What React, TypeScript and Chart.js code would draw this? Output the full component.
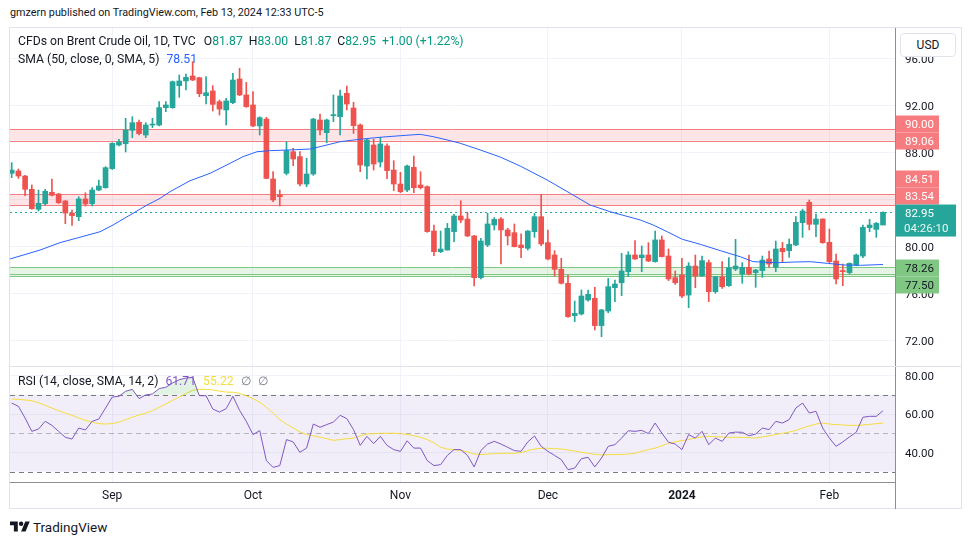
import React, { useEffect, useRef } from 'react';
import { Chart, registerables } from 'chart.js';

Chart.register(...registerables);

const FONT = 'Roboto, "Liberation Sans", Arial, sans-serif';
const UP = '#26a69a';
const DOWN = '#ef5350';

// ---- daily candles, Aug 11 2023 .. Feb 13 2024 (index 0 = first bar) ----
const openP = [86.27,86.47,86.04,84.91,83.21,83.69,84.65,84.51,83.92,82.89,
82.58,84.09,83.69,84.85,85.05,86.67,88.68,88.79,89.93,90.61,
89.53,90.38,90.38,91.86,91.86,93.73,94.13,94.55,94.41,92.88,
93.28,92.37,91.66,92.28,94.30,92.94,92.09,90.30,90.89,85.79,
84.43,86.27,88.11,87.69,85.36,86.21,90.81,89.73,91.18,91.09,
93.08,91.83,90.38,86.89,88.68,87.23,88.60,86.55,85.36,84.85,
86.78,85.28,85.14,81.36,79.60,79.74,81.31,82.64,82.38,80.94,
77.39,80.17,81.87,82.38,81.45,81.22,80.17,79.89,81.30,82.58,
80.37,79.32,78.10,76.91,74.16,74.30,75.49,75.63,73.31,74.55,
76.54,76.96,77.90,79.32,79.09,79.32,78.75,80.60,79.23,77.39,
77.62,75.91,78.38,77.56,78.67,76.20,77.47,76.71,78.13,77.70,
78.27,77.82,77.99,78.98,78.27,79.89,79.69,80.17,82.07,83.80,
81.93,82.38,80.40,78.81,77.99,77.82,78.47,79.23,81.65,81.50,
81.87];
const highP = [87.18,86.64,86.10,85.28,84.85,84.91,85.79,84.57,83.95,83.15,
84.28,84.62,85.05,85.70,86.84,88.88,89.16,90.95,91.09,90.81,
90.58,90.95,92.37,92.37,94.13,94.64,94.72,95.77,94.45,94.50,
93.73,92.51,92.65,94.78,95.21,94.01,93.22,91.09,91.04,86.41,
84.85,88.96,88.40,88.11,87.55,90.95,91.32,90.89,92.94,93.36,
93.70,92.31,90.47,89.17,89.17,89.33,88.77,87.35,86.36,86.98,
87.74,86.41,85.20,81.87,81.36,82.01,82.78,83.94,82.95,81.00,
80.74,82.87,82.50,82.50,81.59,81.96,81.11,81.40,82.87,84.48,
81.45,79.69,79.04,77.62,75.40,76.34,76.34,76.57,74.70,77.33,
77.19,79.46,79.60,80.54,80.09,80.37,81.36,80.94,79.83,77.96,
79.04,78.67,79.32,79.23,78.89,77.50,78.75,79.09,80.65,78.67,
79.32,78.10,79.23,79.66,80.51,80.40,80.68,82.58,83.21,84.00,
82.81,82.40,81.53,79.40,78.55,78.65,79.40,81.87,82.35,82.10,
83.00];
const lowP = [85.90,85.84,84.37,83.21,83.06,83.55,84.35,83.70,81.99,81.84,
82.24,83.49,83.49,84.80,85.00,86.60,88.60,88.09,89.31,89.53,
89.31,90.16,90.30,91.52,91.80,92.74,93.36,94.16,92.79,92.17,
91.57,91.23,90.38,92.20,92.88,91.89,90.24,89.53,85.80,83.86,
83.49,86.13,86.92,85.19,85.14,86.10,89.53,88.88,90.67,89.53,
91.66,89.67,86.41,85.79,86.55,86.81,85.82,84.80,84.62,84.71,
84.62,84.94,81.25,79.26,79.52,79.74,80.45,82.07,80.88,76.68,
77.28,80.03,81.45,78.55,80.17,80.00,79.09,79.74,80.82,80.11,
78.89,77.53,76.85,74.00,73.65,74.21,75.40,72.94,72.37,74.40,
75.35,75.86,77.47,78.95,77.90,78.75,78.70,79.15,77.14,76.82,
75.69,74.84,76.54,77.50,75.35,76.06,76.48,76.65,77.99,76.91,
77.62,76.57,77.42,78.27,77.90,78.75,79.12,80.11,80.82,81.45,
80.88,80.31,78.67,76.85,76.71,77.70,78.40,79.09,81.30,80.82,
81.87];
const closeP = [86.55,86.04,84.91,83.26,83.72,84.74,84.40,83.77,82.89,82.67,
84.09,83.66,84.85,85.19,86.75,88.82,88.94,89.96,90.58,89.65,
90.38,90.44,91.86,92.09,94.07,94.13,94.44,94.21,93.05,93.13,
92.14,91.74,92.43,94.21,92.94,91.94,90.30,91.01,85.84,84.00,
84.28,88.20,87.49,85.36,86.21,90.89,89.96,90.81,91.25,92.85,
92.17,90.33,86.98,89.11,87.06,88.77,86.50,85.36,84.71,86.89,
85.05,85.05,81.31,79.60,79.83,81.59,82.64,82.30,80.94,77.39,
80.51,81.96,82.35,81.45,80.94,80.03,79.94,81.36,82.58,80.26,
78.98,78.10,76.91,74.07,74.35,75.83,75.97,73.31,74.64,76.62,
76.85,77.96,79.32,78.98,79.32,78.81,80.60,79.18,77.28,76.96,
75.83,78.38,77.53,78.84,76.20,77.47,76.62,78.24,78.38,78.27,
77.70,78.04,78.89,78.55,79.83,79.60,80.23,82.10,83.06,81.93,
82.38,80.37,78.75,77.28,77.90,78.61,79.32,81.67,81.87,82.01,
82.95];

// SMA(50) line at these bar positions
const smaIdx = [-0.25,4.22,7.21,10.19,13.18,15.12,18.10,20.19,22.13,23.63,26.61,29.60,32.58,34.52,36.61,38.55,41.54,44.52,46.01,49.00,51.99,54.97,57.96,60.94,62.88,64.97,66.91,69.90,72.88,75.87,79.90,83.33,86.31,89.31,93.78,95.72,97.81,100.04,102.73,105.72,108.70,110.64,114.22,116.61,119.15,121.69,124.07,126.61,130.00];
const smaVals = [78.98,79.74,80.37,80.83,81.30,81.87,82.87,83.57,84.14,84.71,85.64,86.27,87.12,87.69,88.11,88.20,88.26,88.34,88.54,88.96,89.17,89.34,89.47,89.59,89.39,89.11,88.83,88.26,87.66,86.89,85.70,84.57,83.57,83.00,82.30,81.87,81.30,80.66,80.23,79.69,79.17,78.75,78.66,78.72,78.75,78.61,78.47,78.44,78.51];

// RSI(14) and its SMA(14), one value per bar
const rsiVals = [65.7,64.0,57.9,51.0,52.2,56.2,54.1,51.0,47.9,47.0,52.7,51.7,56.2,57.4,63.1,68.8,69.2,71.8,72.8,68.0,69.9,70.4,73.2,73.9,76.1,77.8,78.7,79.0,69.5,69.5,62.6,61.0,62.8,69.2,61.9,56.2,49.3,51.4,35.8,32.3,33.2,46.7,45.5,40.1,42.3,54.8,
53.1,54.5,55.8,59.3,57.6,51.9,43.7,48.4,44.6,48.4,43.7,41.5,40.6,46.1,42.3,42.3,35.8,33.2,33.7,38.5,41.5,41.5,38.5,32.5,41.0,44.4,45.8,44.4,42.7,41.0,40.6,45.5,48.6,43.2,40.6,38.5,36.3,31.1,31.9,36.8,37.5,32.5,37.1,43.2,
44.1,47.5,51.3,51.0,51.5,49.8,55.3,50.1,45.3,44.4,41.5,49.3,47.5,51.0,44.1,47.5,45.8,50.1,50.6,50.5,48.7,49.6,52.7,51.9,56.2,55.3,57.1,63.1,65.7,60.5,61.4,52.7,47.5,43.2,45.5,48.1,50.5,58.3,58.8,58.8,61.71];
const rsiMaVals = [67.8,67.6,67.3,66.9,65.9,64.5,63.1,61.7,60.5,59.3,57.9,56.7,55.8,55.0,54.8,55.0,55.8,57.1,58.3,59.5,60.5,61.7,63.5,65.2,67.1,68.8,70.6,72.3,72.8,72.8,72.5,71.9,71.4,71.3,70.7,69.5,68.0,66.1,63.5,60.5,57.1,54.8,52.7,50.7,49.3,48.7,
47.9,47.2,46.3,46.7,47.2,47.5,48.6,49.6,49.8,50.0,50.0,50.0,49.8,49.4,48.7,47.9,46.7,45.1,42.7,41.8,41.5,41.0,40.3,39.2,38.9,39.2,39.4,39.6,39.6,39.6,39.9,41.0,41.8,42.2,42.2,42.0,41.8,41.3,40.8,40.1,39.6,39.1,38.7,38.9,
38.9,39.0,39.2,39.6,40.6,41.5,42.3,43.5,44.8,45.5,46.2,46.8,47.5,48.1,48.4,48.2,48.1,47.9,47.9,47.9,47.7,47.5,48.1,48.6,49.4,50.0,50.6,51.5,52.7,53.8,54.8,55.3,54.8,54.5,54.3,54.1,54.1,54.3,54.6,55.0,55.22];

// axes
const monthTickIdx = [15, 36, 58, 80, 100, 122];
const monthTickLabels = ['Sep', 'Oct', 'Nov', 'Dec', '2024', 'Feb'];
const priceTicks = [72, 76, 80, 84, 88, 92, 96];
const rsiTicks = [40, 60, 80];

// drawn levels
const redZones = [[89.06, 90.0], [83.54, 84.51]];
const greenZone = [77.5, 78.26];
const greenExtraLine = 77.7;
const rsiBand = [30, 70];
const rsiMid = 50;
const countdownText = '04:26:10';

const X_MIN = -0.254;
const X_MAX = 131.79;
const MAIN_Y_MIN = 69.872;
const MAIN_Y_MAX = 98.638;
const RSI_Y_MIN = 24.68;
const RSI_Y_MAX = 84.42;

const RED_LBL = '#f77c80';
const GREEN_LBL = '#81c784';
const axisLabels = [
  { price: 90.0, dy: -5.5, bg: RED_LBL, fg: '#ffffff' },
  { price: 89.06, dy: 0.5, bg: RED_LBL, fg: '#ffffff' },
  { price: 84.51, dy: -15, bg: RED_LBL, fg: '#ffffff' },
  { price: 83.54, dy: -9.4, bg: RED_LBL, fg: '#ffffff' },
  { price: 78.26, dy: 0.6, bg: GREEN_LBL, fg: '#131722' },
  { price: 77.5, dy: 8.6, bg: GREEN_LBL, fg: '#131722' },
];

const mainDecor = {
  id: 'mainDecor',
  beforeDatasetsDraw(chart: any) {
    const { ctx, chartArea: a } = chart;
    const y = chart.scales.y;
    ctx.save();
    ctx.beginPath();
    ctx.rect(a.left, a.top, a.right - a.left, a.bottom - a.top);
    ctx.clip();
    const hline = (v: number, color: string) => {
      const py = Math.round(y.getPixelForValue(v)) + 0.5;
      ctx.strokeStyle = color;
      ctx.lineWidth = 1;
      ctx.beginPath();
      ctx.moveTo(a.left, py);
      ctx.lineTo(a.right, py);
      ctx.stroke();
    };
    const band = (lo: number, hi: number, fill: string, stroke: string) => {
      const y1 = y.getPixelForValue(hi);
      const y2 = y.getPixelForValue(lo);
      ctx.fillStyle = fill;
      ctx.fillRect(a.left, y1, a.right - a.left, y2 - y1);
      hline(hi, stroke);
      hline(lo, stroke);
    };
    redZones.forEach((z) => band(z[0], z[1], 'rgba(242,54,69,0.13)', RED_LBL));
    band(greenZone[0], greenZone[1], 'rgba(76,175,80,0.14)', GREEN_LBL);
    hline(greenExtraLine, GREEN_LBL);
    ctx.setLineDash([2, 3]);
    hline(closeP[closeP.length - 1], UP);
    ctx.restore();
  },
  afterDraw(chart: any) {
    const { ctx, chartArea: a } = chart;
    const y = chart.scales.y;
    ctx.save();
    ctx.font = '11.5px ' + FONT;
    ctx.textBaseline = 'middle';
    ctx.textAlign = 'left';
    const x0 = a.right + 1;
    axisLabels.forEach((l) => {
      const c = y.getPixelForValue(l.price) + l.dy;
      ctx.fillStyle = l.bg;
      ctx.fillRect(x0, c - 8.5, 43, 17);
    });
    axisLabels.forEach((l) => {
      const c = y.getPixelForValue(l.price) + l.dy;
      ctx.fillStyle = l.fg;
      ctx.fillText(l.price.toFixed(2), x0 + 9, c + 1);
    });
    const last = closeP[closeP.length - 1];
    const c = y.getPixelForValue(last) + 0.7;
    ctx.fillStyle = UP;
    ctx.fillRect(x0, c - 8.5, 60, 32);
    ctx.fillStyle = '#ffffff';
    ctx.fillText(last.toFixed(2), x0 + 9, c + 1);
    ctx.fillStyle = 'rgba(255,255,255,0.9)';
    ctx.fillText(countdownText, x0 + 8, c + 16);
    ctx.restore();
  },
};

const rsiDecor = {
  id: 'rsiDecor',
  beforeDatasetsDraw(chart: any) {
    const { ctx, chartArea: a } = chart;
    const y = chart.scales.y;
    ctx.save();
    const top = y.getPixelForValue(rsiBand[1]);
    const bot = y.getPixelForValue(rsiBand[0]);
    ctx.fillStyle = 'rgba(126,87,194,0.1)';
    ctx.fillRect(a.left, top, a.right - a.left, bot - top);
    const dash = (v: number, color: string) => {
      const py = Math.round(y.getPixelForValue(v)) + 0.5;
      ctx.strokeStyle = color;
      ctx.lineWidth = 1;
      ctx.setLineDash([5, 4]);
      ctx.beginPath();
      ctx.moveTo(a.left, py);
      ctx.lineTo(a.right, py);
      ctx.stroke();
    };
    dash(rsiBand[1], '#787b86');
    dash(rsiBand[0], '#787b86');
    dash(rsiMid, 'rgba(120,123,134,0.5)');
    ctx.restore();
  },
};

function xAxis(show: boolean): any {
  return {
    type: 'linear',
    min: X_MIN,
    max: X_MAX,
    bounds: 'data',
    offset: false,
    grid: { color: '#f0f3fa', drawTicks: false, offset: false },
    border: show ? { display: true, color: '#8b8e97' } : { display: false },
    ticks: show
      ? {
          display: true,
          padding: 7,
          maxRotation: 0,
          autoSkip: false,
          color: '#131722',
          font: (ctx: any) => ({
            size: 12,
            family: FONT,
            weight: ctx.tick && ctx.tick.value === 100 ? 'bold' : 'normal',
          }),
          callback: (v: number) => {
            const k = monthTickIdx.indexOf(v);
            return k >= 0 ? monthTickLabels[k] : '';
          },
        }
      : { display: false },
    afterBuildTicks: (s: any) => {
      s.ticks = monthTickIdx.map((v) => ({ value: v }));
    },
    afterFit: (s: any) => {
      s.height = show ? 27 : 0;
      s.paddingLeft = 0;
      s.paddingRight = 0;
      s.paddingTop = 0;
      s.paddingBottom = 0;
    },
  };
}

function yAxis(min: number, max: number, ticks: number[]): any {
  return {
    type: 'linear',
    position: 'right',
    min,
    max,
    bounds: 'data',
    grid: { color: '#f0f3fa', drawTicks: false },
    border: { display: true, color: '#8b8e97' },
    ticks: {
      padding: 10,
      labelOffset: 1.5,
      color: '#131722',
      font: { size: 11.5, family: FONT },
      callback: (v: number) => Number(v).toFixed(2),
    },
    afterBuildTicks: (s: any) => {
      s.ticks = ticks.map((v) => ({ value: v }));
    },
    afterFit: (s: any) => {
      s.width = 67;
      s.paddingTop = 0;
      s.paddingBottom = 0;
      s.paddingLeft = 0;
      s.paddingRight = 0;
    },
  };
}

export default function App() {
  const mainRef = useRef<HTMLCanvasElement>(null);
  const rsiRef = useRef<HTMLCanvasElement>(null);

  useEffect(() => {
    const idx = closeP.map((_, i) => i);
    const colors = idx.map((i) => (closeP[i] >= openP[i] ? UP : DOWN));

    const main = new Chart(mainRef.current as HTMLCanvasElement, {
      type: 'bar',
      data: {
        datasets: [
          {
            type: 'line',
            label: 'SMA 50',
            data: smaIdx.map((x, i) => ({ x, y: smaVals[i] })),
            borderColor: '#2962ff',
            borderWidth: 1,
            pointRadius: 0,
            tension: 0,
            fill: false,
            order: 0,
          } as any,
          {
            type: 'bar',
            label: 'body',
            data: idx.map((i) => ({ x: i, y: [openP[i], closeP[i]] })),
            backgroundColor: colors,
            barThickness: 5,
            minBarLength: 1,
            grouped: false,
            borderWidth: 0,
            order: 1,
          } as any,
          {
            type: 'bar',
            label: 'wick',
            data: idx.map((i) => ({ x: i, y: [lowP[i], highP[i]] })),
            backgroundColor: colors,
            barThickness: 1,
            grouped: false,
            borderWidth: 0,
            order: 2,
          } as any,
        ],
      },
      options: {
        animation: false,
        responsive: false,
        events: [],
        layout: { padding: 0, autoPadding: false } as any,
        plugins: { legend: { display: false }, tooltip: { enabled: false } },
        scales: {
          x: xAxis(false),
          y: yAxis(MAIN_Y_MIN, MAIN_Y_MAX, priceTicks),
        },
      },
      plugins: [mainDecor],
    });

    const rsi = new Chart(rsiRef.current as HTMLCanvasElement, {
      type: 'line',
      data: {
        datasets: [
          {
            label: 'RSI',
            data: idx.map((i) => ({ x: i, y: rsiVals[i] })),
            borderColor: '#7e57c2',
            borderWidth: 1,
            pointRadius: 0,
            tension: 0,
            fill: { target: { value: rsiBand[1] }, above: 'rgba(76,175,80,0.16)', below: 'rgba(0,0,0,0)' },
            order: 0,
          } as any,
          {
            label: 'RSI MA',
            data: idx.map((i) => ({ x: i, y: rsiMaVals[i] })),
            borderColor: '#f5dc3c',
            borderWidth: 1,
            pointRadius: 0,
            tension: 0,
            fill: false,
            order: 1,
          } as any,
        ],
      },
      options: {
        animation: false,
        responsive: false,
        events: [],
        layout: { padding: 0, autoPadding: false } as any,
        plugins: { legend: { display: false }, tooltip: { enabled: false } },
        scales: {
          x: xAxis(true),
          y: yAxis(RSI_Y_MIN, RSI_Y_MAX, rsiTicks),
        },
      },
      plugins: [rsiDecor],
    });

    return () => {
      main.destroy();
      rsi.destroy();
    };
  }, []);

  const abs = (l: number, t: number, extra: any = {}) => ({ position: 'absolute' as const, left: l, top: t, ...extra });
  const txt = { fontSize: 12.2, lineHeight: '16px', color: '#131722', whiteSpace: 'nowrap' as const };
  const teal = { color: '#089981' };
  const gap = { marginLeft: 6 };

  return (
    <div style={{ position: 'fixed', left: 0, top: 0, width: 970, height: 545, background: '#ffffff', overflow: 'hidden', fontFamily: FONT }}>
      <div style={abs(10, 5, { fontSize: 10.8, lineHeight: '16px', color: '#131722', whiteSpace: 'nowrap' })}>
        gmzern published on TradingView.com, Feb 13, 2024 12:33 UTC-5
      </div>
      <div style={abs(9, 27, { width: 953, height: 482, border: '1px solid #e0e3eb', boxSizing: 'border-box' })} />
      <canvas ref={mainRef} width={952} height={338} style={abs(10, 28, { width: 952, height: 338 })} />
      <div style={abs(10, 366, { width: 952, height: 1, background: '#e0e3eb' })} />
      <canvas ref={rsiRef} width={952} height={142} style={abs(10, 367, { width: 952, height: 142 })} />
      <div style={abs(895, 482, { width: 1, height: 27, background: '#8b8e97' })} />

      <div style={abs(18, 33, txt)}>
        <span>CFDs on Brent Crude Oil, 1D, TVC</span>
        <span style={{ marginLeft: 8 }}>O<span style={teal}>81.87</span></span>
        <span style={gap}>H<span style={teal}>83.00</span></span>
        <span style={gap}>L<span style={teal}>81.87</span></span>
        <span style={gap}>C<span style={teal}>82.95</span></span>
        <span style={{ ...gap, ...teal }}>+1.00 (+1.22%)</span>
      </div>
      <div style={abs(18, 51, txt)}>
        <span>SMA (50, close, 0, SMA, 5)</span>
        <span style={{ marginLeft: 7, color: '#2962ff' }}>78.51</span>
      </div>
      <div style={abs(18, 373, txt)}>
        <span>RSI (14, close, SMA, 14, 2)</span>
        <span style={{ marginLeft: 7, color: '#7e57c2' }}>61.71</span>
        <span style={{ marginLeft: 7, color: '#f5dc3c' }}>55.22</span>
        <span style={{ marginLeft: 7, color: '#787b86' }}>∅</span>
        <span style={{ marginLeft: 7, color: '#787b86' }}>∅</span>
      </div>

      <div style={abs(900, 33, { width: 56, height: 24, border: '1px solid #e0e3eb', borderRadius: 4, background: '#ffffff', boxSizing: 'border-box', fontSize: 12, lineHeight: '22px', textAlign: 'center', color: '#131722' })}>
        USD
      </div>

      <div style={abs(10, 519, { display: 'flex', alignItems: 'center', height: 16 })}>
        <svg width="20" height="16" viewBox="0 0 36 28">
          <path d="M14 22H7V11H0V4h14v18zM28 22h-8l7.5-18h8L28 22z" fill="#131722" />
          <circle cx="20" cy="8" r="4" fill="#131722" />
        </svg>
        <span style={{ marginLeft: 3, fontSize: 13.5, color: '#131722' }}>TradingView</span>
      </div>
    </div>
  );
}
